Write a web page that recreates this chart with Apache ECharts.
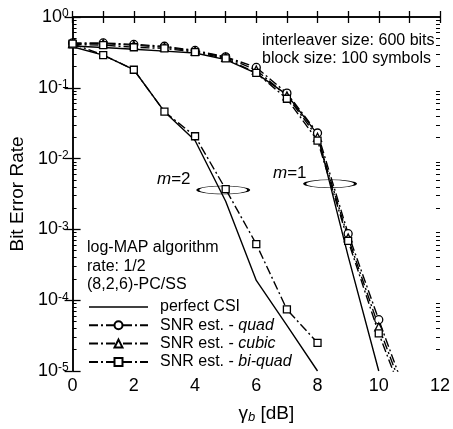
<!DOCTYPE html>
<html>
<head>
<meta charset="utf-8">
<script src="https://cdn.jsdelivr.net/npm/echarts@6/dist/echarts.min.js"></script>
<style>html,body{margin:0;padding:0;background:#fff;}#c{width:453px;height:429px;}</style>
</head>
<body>
<div id="c"></div>
<script>
// ---- data ----
const snrM1 = [0,1,2,3,4,5,6,7,8,9,10,11];
const snrM2 = [0,1,2,3,4,5,6,7,8];
const m1Perfect = [0.39,0.37,0.35,0.33,0.31,0.25,0.16,0.08,0.022,4.2e-4,1.0e-5];
const m1Quad    = [0.43,0.43,0.41,0.386,0.337,0.274,0.194,0.084,0.023,8.7e-4,5.3e-5,3.5e-6];
const m1Cubic   = [0.42,0.42,0.40,0.375,0.33,0.27,0.178,0.077,0.020,7.6e-4,4.2e-5,3.0e-6];
const m1BiQuad  = [0.41,0.40,0.374,0.36,0.32,0.26,0.162,0.070,0.018,6.9e-4,3.4e-5,2.5e-6];
const m2Perfect = [0.38,0.29,0.18,0.046,0.018,0.0025,1.9e-4,4.4e-5,1.0e-5];
const m2BiQuad  = [0.42,0.29,0.18,0.046,0.0207,0.0037,6.2e-4,7.4e-5,2.5e-5];
const ellipseCenters = [[4.92,0.0036],[8.41,0.0044]];
const xTickLabels = ['0','2','4','6','8','10','12'];
const yExponents = [-5,-4,-3,-2,-1,0];
const legendNames = ['perfect CSI','SNR est. - quad','SNR est. - cubic','SNR est. - bi-quad'];

const FONT = '"Liberation Sans", Arial, sans-serif';
const pairs = (xs, ys) => ys.map((v,i)=>[xs[i], v]);
const minorVals = [];
for (const e of yExponents.slice(0,-1)) for (let k=2;k<=9;k++) minorVals.push(Math.log10(k) + e);

const dashDot = [9,3,2,3];
const lineBase = (name, data, symbol, size) => ({
  type:'line', name, data, xAxisIndex:0, yAxisIndex:0,
  symbol: symbol || 'none', symbolSize: size || 0, showSymbol: !!symbol,
  clip:true, animation:false, z: 3,
  emphasis:{disabled:true},
  lineStyle:{color:'#000', width:1.4, type: symbol ? dashDot : 'solid'},
  itemStyle:{color:'#fff', borderColor:'#000', borderWidth:1.3}
});

const chart = echarts.init(document.getElementById('c'), null, {renderer:'canvas'});
const axisLine = {show:true, lineStyle:{color:'#000', width:1.5}};
const option = {
  backgroundColor:'#fff',
  animation:false,
  textStyle:{fontFamily:FONT},
  grid:{left:72, right:13, top:17, bottom:45, containLabel:false},
  xAxis:[
    {type:'value', min:0, max:12, interval:1, position:'bottom',
     axisLine, splitLine:{show:false},
     axisTick:{show:true, inside:true, length:6, lineStyle:{color:'#000', width:1.3}},
     axisLabel:{margin:6, fontSize:18, color:'#000', fontFamily:FONT,
       formatter: v => xTickLabels.includes(String(v)) ? String(v) : ''},
     name:'γ{s|b} [dB]', nameLocation:'middle', nameGap:32,
     nameTextStyle:{fontSize:19, color:'#000', fontFamily:FONT, padding:[0,0,0,20],
       rich:{s:{fontSize:13, fontStyle:'italic', fontFamily:FONT, color:'#000', verticalAlign:'bottom', padding:[8,0,0,0]}}}
    },
    {type:'value', min:0, max:12, interval:1, position:'top',
     axisLine, splitLine:{show:false}, axisLabel:{show:false},
     axisTick:{show:true, inside:true, length:6, lineStyle:{color:'#000', width:1.3}}}
  ],
  yAxis:[
    {type:'log', logBase:10, min:1e-5, max:1, position:'left',
     axisLine, splitLine:{show:false}, minorTick:{show:false},
     axisTick:{show:true, inside:true, length:8, lineStyle:{color:'#000', width:1.3}},
     axisLabel:{margin:4, color:'#000', fontFamily:FONT,
       formatter: v => '{b|10}{s|' + Math.round(Math.log10(v)) + '}',
       rich:{b:{fontSize:18, fontFamily:FONT, color:'#000', lineHeight:18},
             s:{fontSize:12, fontFamily:FONT, color:'#000', verticalAlign:'top', lineHeight:12}}},
     name:'Bit Error Rate', nameLocation:'middle', nameGap:31, nameRotate:90,
     nameTextStyle:{fontSize:19, color:'#000', fontFamily:FONT}},
    {type:'log', logBase:10, min:1e-5, max:1, position:'right',
     axisLine, splitLine:{show:false}, axisLabel:{show:false},
     axisTick:{show:true, inside:true, length:8, lineStyle:{color:'#000', width:1.3}}},
    {type:'value', min:-5, max:0, position:'left', axisLine:{show:false}, splitLine:{show:false}, axisLabel:{show:false},
     axisTick:{show:true, inside:true, length:4, customValues:minorVals, lineStyle:{color:'#000', width:1}}},
    {type:'value', min:-5, max:0, position:'right', axisLine:{show:false}, splitLine:{show:false}, axisLabel:{show:false},
     axisTick:{show:true, inside:true, length:4, customValues:minorVals, lineStyle:{color:'#000', width:1}}}
  ],
  legend:{
    show:true, orient:'vertical', left:83, top:294,
    data: [
      {name:legendNames[0], icon:'path://M0,0H59V1.4H0Z', itemStyle:{color:'#000', borderWidth:0}},
      legendNames[1], legendNames[2], legendNames[3]
    ],
    itemWidth:59, itemHeight:10, itemGap:2.3,
    selectedMode:false,
    textStyle:{fontSize:16, color:'#000', fontFamily:FONT, padding:[0,0,0,7],
      rich:{i:{fontSize:16, fontStyle:'italic', color:'#000', fontFamily:FONT}}},
    formatter: n => n.startsWith('SNR') ? n.replace(' - ', ' - {i|') + '}' : n
  },
  graphic:[
    {type:'text', left:262, top:33, style:{text:'interleaver size: 600 bits', font:'16px ' + FONT, fill:'#000'}},
    {type:'text', left:262, top:51, style:{text:'block size: 100 symbols', font:'16px ' + FONT, fill:'#000'}},
    {type:'text', left:87, top:240, style:{text:'log-MAP algorithm', font:'16px ' + FONT, fill:'#000'}},
    {type:'text', left:87, top:259, style:{text:'rate: 1/2', font:'16px ' + FONT, fill:'#000'}},
    {type:'text', left:87, top:277, style:{text:'(8,2,6)-PC/SS', font:'16px ' + FONT, fill:'#000'}},
    {type:'text', left:157, top:171, style:{text:'{i|m}=2', font:'17px ' + FONT, fill:'#000', rich:{i:{fontStyle:'italic', fontSize:17, fontFamily:FONT}}}},
    {type:'text', left:273, top:165, style:{text:'{i|m}=1', font:'17px ' + FONT, fill:'#000', rich:{i:{fontStyle:'italic', fontSize:17, fontFamily:FONT}}}}
  ],
  series:[
    lineBase('perfect CSI', pairs(snrM1, m1Perfect)),
    lineBase('perfect CSI', pairs(snrM2, m2Perfect)),
    lineBase('SNR est. - quad', pairs(snrM1, m1Quad), 'circle', 8),
    lineBase('SNR est. - cubic', pairs(snrM1, m1Cubic), 'triangle', 8),
    lineBase('SNR est. - bi-quad', pairs(snrM1, m1BiQuad), 'rect', 7),
    lineBase('SNR est. - bi-quad', pairs(snrM2, m2BiQuad), 'rect', 7),
    {type:'scatter', name:'ellipse', data: ellipseCenters, symbol:'circle', symbolSize:[51,8],
     itemStyle:{color:'rgba(0,0,0,0)', borderColor:'#000', borderWidth:1.2, opacity:1},
     emphasis:{disabled:true}, z:2, silent:true}
  ]
};
chart.setOption(option);
</script>
</body>
</html>
